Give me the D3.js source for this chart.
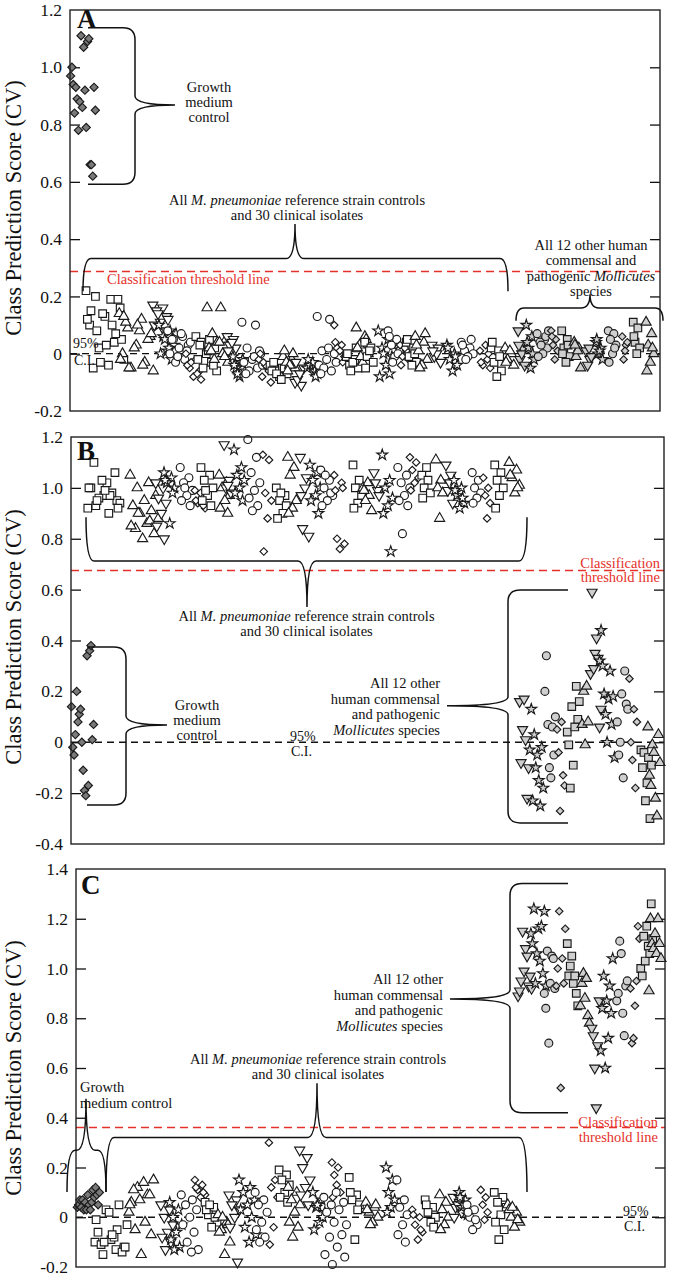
<!DOCTYPE html>
<html><head><meta charset="utf-8">
<script src="https://cdn.jsdelivr.net/npm/d3@7"></script>
<style>body{margin:0;background:#fff}svg{display:block}
text{font-family:"Liberation Serif","Times New Roman","DejaVu Serif",serif}</style>
</head><body>
<svg id="chart" width="674" height="1278"></svg>
<script>
// ================= DATA =================
// y-axis tick values per panel
const aTicks = [-0.2, 0, 0.2, 0.4, 0.6, 0.8, 1.0, 1.2];
const bTicks = [-0.4, -0.2, 0, 0.2, 0.4, 0.6, 0.8, 1.0, 1.2];
const cTicks = [-0.2, 0, 0.2, 0.4, 0.6, 0.8, 1.0, 1.2, 1.4];
// classification thresholds (red dashed) and 95% C.I. line
const thresholds = [0.287, 0.675, 0.361];
const ciLine = 0;
// shape codes: s square, u triangle up, d triangle down, o circle, x star, m diamond
// each cluster: [shape, sample position (% of sample axis), replicate scores]
const aControl = [["m", 2.2, [0.97,1.0,0.94,0.84,0.93,0.89,0.78,0.88,1.11,0.86,1.07,0.92,0.79,1.09,1.1,0.66,0.66,0.62,0.93,0.85]]];
const aPneumo = [
 ["s",6.1,[0.22,0.19,0.2,0.16,0.13,0.1,0.04,0.02,-0.02,-0.04,-0.05,0.19,0.14,0.12,0.1,0.08,0.05,0.03,0.15,0.07,-0.03]],
 ["u",11.4,[0.14,0.12,0.09,0.06,0.03,0,-0.03,-0.05,-0.06,0.08,0.11,0.05,0.02,-0.02,-0.04,-0.05,0.07,0.1,0.13]],
 ["d",15.4,[0.17,0.16,0.15,0.13,0.11,0.1,0.08,0.14,0.12]],
 ["x",16.6,[0.1,0.08,0.06,0.03,0.01,0,-0.02,0.05,0.07,0.02]],
 ["o",18.6,[0.08,0.06,0.05,0.03,0.02,0,-0.02,-0.03,0.04,0.07,0.05,0.01,-0.01]],
 ["m",21.0,[0,-0.02,-0.05,-0.06,-0.08,-0.04,-0.07,-0.03,-0.09]],
 ["s",23.2,[0.06,0.05,0.04,0.02,0,-0.02,-0.03,-0.05,-0.06,0.01,0.03,-0.04]],
 ["u",25.1,[0.16,0.16,0.07,0.05,0.04,0.02,0,-0.02,-0.03,0.04,0.01,-0.01]],
 ["d",27.5,[0.06,0.05,0.03,0.02,0.04,0.01]],
 ["x",28.8,[-0.01,-0.03,-0.05,-0.06,-0.08,-0.04,-0.02,-0.07]],
 ["o",31.0,[0.11,0.1,0.02,0,-0.02,-0.03,-0.05,-0.06,-0.04,-0.01,-0.07,0.01]],
 ["m",33.2,[-0.02,-0.05,-0.08,-0.1,-0.04,0,-0.06,-0.03]],
 ["s",35.6,[-0.04,-0.05,-0.06,-0.07,-0.08,-0.06,-0.05,-0.07,-0.04,-0.09,-0.03]],
 ["u",37.3,[-0.01,-0.02,-0.03,-0.05,-0.04,0.01,0.0,-0.06]],
 ["d",39.0,[-0.1,-0.11,-0.09,-0.05,-0.07,-0.03]],
 ["x",41.2,[-0.05,-0.06,-0.04,-0.07,-0.03,-0.02,-0.08]],
 ["o",43.6,[0.13,0.12,0.01,0,-0.02,-0.04,-0.06,-0.05,-0.03,0.02,-0.07]],
 ["m",45.8,[0.1,0.03,0.02,-0.01,0.01,0.04,-0.03]],
 ["s",48.0,[-0.01,-0.02,-0.04,-0.05,-0.03,0,0.02,-0.06]],
 ["u",49.7,[0.09,0.06,0.03,0,-0.03,0.02,0.05,-0.01]],
 ["s",50.8,[0.04,0.02,-0.01,-0.03,0.01,-0.05]],
 ["x",53.6,[0.08,0.05,0.02,-0.01,-0.04,-0.08,-0.07,0.0,0.03]],
 ["o",55.1,[0.08,0.05,0.03,0.01,-0.01,0.06,0.0,-0.03]],
 ["m",56.8,[0.03,0.01,-0.01,-0.02,0.02,-0.04]],
 ["s",58.0,[0.04,0.02,-0.01,-0.03,-0.04,0.05,0.0]],
 ["u",59.7,[0.06,0.04,0.01,-0.02,-0.04,0.03,0.07,-0.05]],
 ["d",62.2,[0.03,0.02,-0.01,-0.03,0.0,0.01]],
 ["x",64.9,[0.03,0,-0.02,-0.04,-0.06,0.02,-0.01]],
 ["o",67.5,[0.04,0.02,0.01,0,-0.01,0.03,0.05,-0.02]],
 ["m",70.5,[0.01,-0.02,-0.04,-0.05,0.03,-0.03,0.0]],
 ["s",72.4,[0.02,0.01,-0.03,-0.06,-0.08,0.04,-0.01]],
 ["u",74.6,[0.02,0,-0.02,-0.04,0.01,-0.03]]
];
const aOther = [
 ["d",76.6,[0.08,0.02,-0.02,-0.04,0.0,0.03]],
 ["x",78.1,[0.1,0.06,0.02,-0.02,-0.05,0.04,0.0]],
 ["o",80.2,[0.07,0.05,0.04,0.02,0,-0.01,0.06,0.03,0.08]],
 ["m",82.2,[0.08,0.05,0.03,0.01,-0.02,0.06]],
 ["s",84.1,[0.08,0.05,0.02,-0.01,-0.03,0.0,0.03]],
 ["u",86.1,[0.04,0.02,-0.01,-0.05,0.01,0.03]],
 ["d",88.0,[0.01,-0.02,-0.04,-0.01,0.02]],
 ["x",89.8,[0.04,0.02,0,-0.02,0.01,0.05]],
 ["o",92.0,[0.08,0.07,0.05,0.03,0,-0.03,0.02]],
 ["m",94.1,[0.06,0.03,-0.02,0.04,0.01]],
 ["s",96.1,[0.11,0.09,0.04,0.02,0.0,0.06]],
 ["u",98.4,[0.11,0.07,0.03,0,-0.03,-0.06,0.02]]
];
const bControl = [["m", 1.94, [0.14,-0.02,-0.05,0.03,0.2,0.08,0.11,0.13,0.0,-0.11,-0.19,-0.21,0.34,-0.17,0.36,0.38,0.01,0.07]]];
const bPneumo = [
 ["s",5.7,[0.92,0.9,0.93,0.95,0.97,1.0,0.98,0.96,0.94,1.02,1.1,1.06,1.03,1.0,0.97,0.95,0.92,0.99]],
 ["u",12.5,[1.05,1.02,1.0,0.97,0.95,0.93,0.91,0.9,0.88,0.86,0.84,0.82,0.8,0.85,0.87,0.9]],
 ["d",15.3,[1.02,1.0,0.96,0.94,0.9,0.85,0.8]],
 ["x",16.7,[1.06,1.04,1.02,1.0,0.86,1.03,0.98]],
 ["o",19.6,[1.08,1.04,1.02,0.99,0.97,0.95,0.93,1.0]],
 ["m",21.9,[0.99,0.96,0.94,0.92,0.98,0.95,0.93]],
 ["s",23.1,[1.08,1.05,1.03,1.0,0.97,0.95,0.93,0.99]],
 ["u",26.0,[1.05,1.02,1.0,0.97,0.95,0.92,0.9]],
 ["d",26.5,[1.17,1.03,1.0,0.98,1.01]],
 ["x",28.5,[1.15,1.08,1.05,1.03,1.0,0.98,0.95]],
 ["o",31.0,[1.19,1.12,1.06,1.02,0.99,0.96,0.93,0.91]],
 ["m",33.2,[1.13,1.11,0.98,0.95,0.88,0.75]],
 ["s",35.8,[1.0,0.97,0.95,0.92,0.9,0.88,0.93,0.98]],
 ["u",37.4,[1.12,1.08,1.05,0.95,0.92,0.9]],
 ["d",39.5,[1.12,1.04,0.84,0.81,1.0,0.97]],
 ["x",41.3,[1.09,1.06,1.03,1.0,0.97,0.95,0.9]],
 ["o",43.3,[1.07,1.03,1.0,0.97,0.95,0.93,0.98,1.05]],
 ["m",45.4,[1.05,1.02,0.8,0.78,0.76,0.99,1.0]],
 ["s",48.4,[1.09,1.03,1.0,0.97,0.94,0.92]],
 ["u",50.1,[1.0,0.97,0.95,0.91,1.02,0.99]],
 ["d",51.6,[1.06,0.99,1.02,0.97]],
 ["x",53.5,[1.13,1.03,1.0,0.96,0.93,0.9,0.75]],
 ["o",56.3,[1.08,1.05,1.02,1.0,0.97,0.95,0.93,0.82]],
 ["m",58.0,[1.12,1.1,1.07,1.04,1.02,0.99]],
 ["s",60.0,[1.05,1.03,1.0,0.98,1.08,0.96]],
 ["u",62.2,[1.11,1.03,1.0,0.98,0.88]],
 ["d",63.9,[1.09,1.05,0.99,0.94,1.02]],
 ["x",65.6,[1.03,1.0,0.97,0.94,0.92,0.99,0.96]],
 ["o",68.5,[1.06,1.03,1.0,0.98,0.96,0.94]],
 ["m",70.2,[1.04,1.0,0.97,0.94,0.88]],
 ["s",72.3,[1.09,1.06,1.03,1.0,0.97,0.92]],
 ["u",74.9,[1.1,1.07,1.04,1.01,0.98,1.05,1.0]]
];
const bOther = [
 ["d",76.4,[0.16,-0.08,0.05,0.17,0.01,-0.22,-0.1]],
 ["x",78.5,[-0.03,0.13,-0.23,0.03,-0.1,-0.05,-0.15,-0.25,-0.02,-0.18]],
 ["o",80.8,[0.2,0.34,0.07,-0.1,-0.14,0.06,-0.05,0.1]],
 ["m",82.6,[0.05,-0.04,-0.27,0.08,-0.13,-0.17]],
 ["s",84.7,[0.04,-0.01,-0.18,0.14,-0.09,0.06,0.22,0.09,0.16]],
 ["u",86.7,[0.07,0.2,-0.01,0.22,0.08]],
 ["d",88.5,[0.27,0.59,0.29,0.35,0.41,0.33,0.06,0.13]],
 ["x",90.4,[0.32,0.44,0.3,0.19,0.11,0.0,0.17,0.28,0.07,0.18,-0.06]],
 ["o",93.0,[0.08,-0.05,0.0,0.19,-0.14,0.28,0.15,0.13]],
 ["m",94.8,[0.25,0.0,-0.07,0.13,-0.18,0.08]],
 ["s",97.0,[-0.03,-0.1,-0.04,-0.23,-0.16,-0.06,-0.3,-0.09]],
 ["u",98.3,[0.06,-0.13,-0.17,-0.01,-0.04,-0.22,-0.29,0.03,-0.08]]
];
const cControl = [["m", 2.1, [0.04,0.05,0.07,0.04,0.07,0.03,0.06,0.03,0.09,0.05,0.03,0.06,0.11,0.08,0.12,0.09,0.05,0.1]]];
const cPneumo = [
 ["s",6.1,[-0.1,-0.13,-0.15,-0.12,-0.09,-0.06,0.05,0.03,-0.03,-0.08,-0.11,-0.14,0.02,-0.01,-0.05,-0.1,-0.12,-0.07]],
 ["u",11.2,[0.02,-0.02,-0.05,-0.07,-0.15,0.06,0.09,0.12,0.15,0.14,0.11,0.09,0.07,0.05]],
 ["d",15.6,[0.05,0.03,0,-0.03,-0.06,-0.08,-0.1,-0.13]],
 ["x",17.1,[0.06,0.03,0,-0.03,-0.06,-0.09,-0.12,-0.13]],
 ["o",19.4,[0.09,0.07,0.05,0.03,0,-0.03,-0.06,-0.1,-0.13,-0.14]],
 ["m",21.2,[0.15,0.13,0.11,0.09,0.08,0.12,0.1]],
 ["s",23.1,[0.06,0.04,0.01,-0.02,-0.04,0.03,0.0,0.05]],
 ["u",25.3,[0.01,-0.02,-0.05,-0.1,-0.15,-0.06,-0.03,0.0]],
 ["d",27.0,[0.09,0.07,0.05,0.03,0.0,-0.04,-0.18]],
 ["x",29.2,[0.15,0.12,0.1,0.07,0.05,0.03,0,-0.04,-0.07,-0.1]],
 ["o",31.6,[0.1,0.07,0.05,0.02,-0.02,-0.05,-0.08,-0.1]],
 ["m",33.6,[0.3,0.15,0.12,0.08,-0.04,-0.11]],
 ["s",35.5,[0.19,0.17,0.15,0.13,0.1,0.08,0.06]],
 ["u",37.2,[0.12,0.1,0.07,0.05,0.02,-0.02,-0.04,-0.08]],
 ["d",39.0,[0.27,0.24,0.2,0.15,0.12,0.09,0.05]],
 ["x",41.4,[0.1,0.07,0.04,0.02,-0.02,-0.05,0.0,0.05]],
 ["o",43.1,[0.08,0.05,0.02,-0.02,-0.08,-0.15,-0.19]],
 ["m",44.3,[0.22,0.2,0.17,0.1,0.13,0.08]],
 ["o",45.2,[0.1,0.06,0.03,-0.03,-0.07,-0.12,-0.16]],
 ["s",47.4,[0.16,0.09,0.07,0.05,-0.09,0.1,0.03]],
 ["u",50.4,[0.06,0.04,0.02,0,-0.02,0.03,0.05,-0.03]],
 ["x",53.5,[0.2,0.15,0.1,0.07,0.04,0.02]],
 ["o",55.5,[0.15,0.07,0.04,0.01,-0.03,-0.07,-0.1]],
 ["m",58.1,[0.03,0,-0.03,-0.06,-0.09,0.01,-0.05]],
 ["s",60.3,[0.07,0.04,0.02,0,-0.02,0.05,-0.04]],
 ["u",62.6,[0.09,0.06,0.03,0,-0.03,-0.05]],
 ["d",64.9,[0.08,0.06,0.04,0.02,0.05,0.0]],
 ["x",65.9,[0.1,0.07,0.04,0.01,0.05,0.08]],
 ["o",67.4,[0.05,0.03,0,-0.03,-0.05,0.02,-0.01]],
 ["m",69.4,[0.11,0.08,0.05,0.02,-0.01]],
 ["s",72.2,[0.1,0.08,0.06,0.04,0.01,-0.02,-0.05,-0.09]],
 ["u",74.5,[0.05,0.02,0,-0.02,-0.04,0.03,-0.01,0.04]]
];
const cOther = [
 ["d",76.2,[0.89,0.91,0.95,1.15,0.99,1.08,1.05,0.93,0.97,0.92]],
 ["x",78.5,[1.14,1.1,1.24,0.94,1.06,1.16,1.03,1.17,0.98,1.23,0.93]],
 ["o",80.4,[0.9,0.84,1.07,0.7,0.94,1.05,1.04,0.92]],
 ["m",82.3,[0.93,1.0,1.23,0.52,1.04,0.94,1.16]],
 ["s",84.3,[1.1,0.97,1.01,1.05,0.94,0.97,0.9,0.85]],
 ["u",86.4,[0.85,0.94,0.98,0.88,0.96,0.81,0.78]],
 ["d",88.2,[0.76,0.73,0.6,0.44,0.69,0.87]],
 ["x",90.1,[0.67,0.84,0.97,0.6,0.87,0.72,0.93,0.82,1.04]],
 ["o",92.7,[0.87,0.9,1.11,1.06,0.82,0.73,0.93,0.95]],
 ["m",94.9,[0.92,0.7,0.72,0.85,0.95,1.17,1.12]],
 ["s",96.9,[1.0,0.97,1.13,1.03,1.17,1.09,1.06,1.26,1.12]],
 ["u",98.3,[0.91,1.2,1.1,1.08,1.14,1.06,1.2,1.1,1.04]]
];

// ================= LAYOUT / STYLE =================
const FONT = '"Liberation Serif","Times New Roman","DejaVu Serif",serif';
const RED = "#e5302a";
const svg = d3.select("#chart");
const shapes = {
  s: {type: d3.symbolSquare, size: 58, rot: 0},
  u: {type: d3.symbolTriangle, size: 44, rot: 0},
  d: {type: d3.symbolTriangle, size: 44, rot: 180},
  o: {type: d3.symbolCircle, size: 50, rot: 0},
  x: {type: d3.symbolStar, size: 36, rot: 0},
  m: {type: d3.symbolSquare, size: 28, rot: 45}
};

const panels = [
  {key:"A", top:10, bottom:411, left:70, right:660, domain:[-0.2,1.2], ticks:aTicks, thr:thresholds[0],
   control:aControl, pneumo:aPneumo, other:aOther, jitterOther:true, titleY:208, letter:[77,28]},
  {key:"B", top:437, bottom:844, left:71, right:664, domain:[-0.4,1.2], ticks:bTicks, thr:thresholds[1],
   control:bControl, pneumo:bPneumo, other:bOther, jitterOther:false, titleY:637, letter:[77,460]},
  {key:"C", top:869, bottom:1267, left:76, right:665, domain:[-0.2,1.4], ticks:cTicks, thr:thresholds[2],
   control:cControl, pneumo:cPneumo, other:cOther, jitterOther:false, titleY:1068, letter:[81,894]}
];

function fmt(v){ return v === 0 ? "0" : (v < 0 ? "-" : "") + Math.abs(v).toFixed(1); }

function text(g, x, y, parts, opt = {}) {
  const t = g.append("text").attr("x", x).attr("y", y)
    .attr("font-family", FONT).attr("font-size", opt.size || 14.5)
    .attr("fill", opt.color || "#111").attr("text-anchor", opt.anchor || "start");
  if (opt.bold) t.attr("font-weight", "bold");
  (typeof parts === "string" ? [[parts]] : parts).forEach(p => {
    const ts = t.append("tspan").text(p[0]);
    if (p[1]) ts.attr("font-style", "italic");
  });
  return t;
}
function hBrace(g, y, x1, x2, xt, ve, vs, vt) {
  const ye = y(ve), ys = y(vs), yt = y(vt), k = 8, kt = 9;
  g.append("path").attr("fill","none").attr("stroke","#111").attr("stroke-width",1.5)
   .attr("d", `M${x1},${ye} Q${x1},${ys} ${x1+k},${ys} L${xt-kt},${ys} Q${xt},${ys} ${xt},${yt} Q${xt},${ys} ${xt+kt},${ys} L${x2-k},${ys} Q${x2},${ys} ${x2},${ye}`);
}
function vBrace(g, y, xe, xs, xt, v1, v2, vt) {
  const y1 = y(v1), y2 = y(v2), yt = y(vt), k = 12, kt = 9;
  const dir = xe < xs ? 1 : -1;
  g.append("path").attr("fill","none").attr("stroke","#111").attr("stroke-width",1.5)
   .attr("d", `M${xe},${y1} L${xs - dir*k},${y1} Q${xs},${y1} ${xs},${y1+k} L${xs},${yt-kt} Q${xs},${yt} ${xt},${yt} Q${xs},${yt} ${xs},${yt+kt} L${xs},${y2-k} Q${xs},${y2} ${xs - dir*k},${y2} L${xe},${y2}`);
}

// replicates of a cluster are spread across its width; jittered groups use a
// deterministic golden-ratio order so replicates don't line up diagonally
function drawGroup(g, clusters, x, y, spacing, fill, sizeK, jitter) {
  const pts = clusters.flatMap(([sh, pos, vals]) => vals.map((v, j) => {
    const n = vals.length, w = (n - 1) * spacing;
    const off = jitter ? (((j * 0.6180339887) % 1) - 0.5) * w : (j - (n - 1) / 2) * spacing;
    return {sh, v, cx: x(pos) + off};
  }));
  g.selectAll(null).data(pts).join("path")
    .attr("d", d => d3.symbol(shapes[d.sh].type, shapes[d.sh].size * sizeK)())
    .attr("transform", d => `translate(${d.cx},${y(d.v)}) rotate(${shapes[d.sh].rot})`)
    .attr("fill", fill).attr("stroke", "#1a1a1a").attr("stroke-width", 1.15);
}

panels.forEach(p => {
  const g = svg.append("g");
  const y = d3.scaleLinear().domain(p.domain).range([p.bottom, p.top]);
  const x = d3.scaleLinear().domain([0, 100]).range([p.left, p.right]);
  p.y = y; p.x = x; p.g = g;

  const inner = p.ticks.filter(t => t > p.domain[0] && t < p.domain[1]);
  const la = g.append("g").attr("transform", `translate(${p.left},0)`)
    .call(d3.axisLeft(y).tickValues(p.ticks).tickFormat(fmt).tickSizeInner(0).tickSizeOuter(0).tickPadding(8));
  la.select(".domain").remove();
  la.attr("font-family", FONT).attr("font-size", 17.5).attr("color", "#111");
  g.append("g").attr("transform", `translate(${p.left},0)`)
    .call(d3.axisRight(y).tickValues(inner).tickFormat("").tickSizeInner(10).tickSizeOuter(0))
    .call(s => s.select(".domain").remove()).attr("color", "#111")
    .selectAll("line").attr("stroke-width", 1.3);
  g.append("g").attr("transform", `translate(${p.right},0)`)
    .call(d3.axisLeft(y).tickValues(inner).tickFormat("").tickSizeInner(10).tickSizeOuter(0))
    .call(s => s.select(".domain").remove()).attr("color", "#111")
    .selectAll("line").attr("stroke-width", 1.3);

  g.append("text").attr("transform", `translate(21,${p.titleY}) rotate(-90)`)
    .attr("text-anchor", "middle").attr("font-family", FONT).attr("font-size", 22.5)
    .attr("fill", "#111").text("Class Prediction Score (CV)");

  g.append("line").attr("x1", p.left).attr("x2", p.right).attr("y1", y(ciLine)).attr("y2", y(ciLine))
    .attr("stroke", "#111").attr("stroke-width", 1.3).attr("stroke-dasharray", "7,5");
  g.append("line").attr("x1", p.left).attr("x2", p.right).attr("y1", y(p.thr)).attr("y2", y(p.thr))
    .attr("stroke", RED).attr("stroke-width", 1.6).attr("stroke-dasharray", "8,5");

  drawGroup(g, p.pneumo, x, y, 2.0, "#fff", 1, true);
  drawGroup(g, p.other, x, y, 1.5, "#cfcfcf", 1, p.jitterOther);
  drawGroup(g, p.control, x, y, 1.3, "#7a7a7a", 1.2, false);

  g.append("rect").attr("x", p.left).attr("y", p.top).attr("width", p.right - p.left)
    .attr("height", p.bottom - p.top).attr("fill", "none").attr("stroke", "#222").attr("stroke-width", 1.4);

  text(g, p.letter[0], p.letter[1], p.key, {size: 27, bold: true});
});

// ================= ANNOTATIONS =================
const mp1 = [["All "], ["M. pneumoniae", true], [" reference strain controls"]];
const mp2 = "and 30 clinical isolates";
{ // A
  const {g, y} = panels[0];
  vBrace(g, y, 88, 135, 175, 1.138, 0.592, 0.868);
  ["Growth","medium","control"].forEach((s,i) => text(g, 209, 92 + i*15.2, s, {anchor:"middle"}));
  hBrace(g, y, 83, 508, 295, 0.218, 0.332, 0.453);
  text(g, 297, 205, mp1, {anchor:"middle"});
  text(g, 297, 219.5, mp2, {anchor:"middle"});
  text(g, 107, 284, "Classification threshold line", {color: RED});
  hBrace(g, y, 516, 663, 590, 0.115, 0.16, 0.208);
  [[["All 12 other human"]],[["commensal and"]],[["pathogenic "],["Mollicutes",true]],[["species"]]]
    .forEach((s,i) => text(g, 591, 250 + i*15.3, s, {anchor:"middle"}));
  text(g, 73, 348, "95%", {size:14});
  text(g, 74, 365, "C.I.", {size:14});
}
{ // B
  const {g, y} = panels[1];
  hBrace(g, y, 86, 527, 307, 0.885, 0.713, 0.532);
  text(g, 306.5, 621, mp1, {anchor:"middle"});
  text(g, 306.5, 636, mp2, {anchor:"middle"});
  text(g, 660, 567.5, "Classification", {anchor:"end", color: RED});
  text(g, 660, 582, "threshold line", {anchor:"end", color: RED});
  vBrace(g, y, 87, 126, 167, 0.374, -0.247, 0.068);
  ["Growth","medium","control"].forEach((s,i) => text(g, 197, 710 + i*15, s, {anchor:"middle"}));
  text(g, 290, 740.5, "95%", {size:14});
  text(g, 291, 756, "C.I.", {size:14});
  vBrace(g, y, 568, 508, 447, 0.599, -0.317, 0.143);
  [[["All 12 other"]],[["human commensal"]],[["and pathogenic"]],[["Mollicutes",true],[" species"]]]
    .forEach((s,i) => text(g, 440, 688 + i*15.7, s, {anchor:"end"}));
}
{ // C
  const {g, y} = panels[2];
  hBrace(g, y, 67, 106, 86, 0.102, 0.269, 0.476);
  text(g, 80, 1092, "Growth");
  text(g, 80, 1108, "medium control");
  hBrace(g, y, 106, 527, 317, 0.102, 0.321, 0.539);
  text(g, 318, 1064, mp1, {anchor:"middle"});
  text(g, 318, 1079, mp2, {anchor:"middle"});
  vBrace(g, y, 568, 510, 450, 1.342, 0.42, 0.877);
  [[["All 12 other"]],[["human commensal"]],[["and pathogenic"]],[["Mollicutes",true],[" species"]]]
    .forEach((s,i) => text(g, 443, 984 + i*15.7, s, {anchor:"end"}));
  text(g, 658, 1127, "Classification", {anchor:"end", color: RED});
  text(g, 658, 1142, "threshold line", {anchor:"end", color: RED});
  text(g, 623, 1216, "95%", {size:14});
  text(g, 624, 1231, "C.I.", {size:14});
}
</script>
</body></html>
